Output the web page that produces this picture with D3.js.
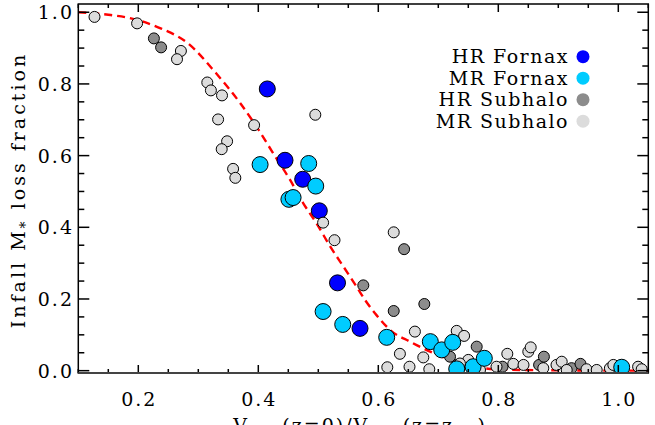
<!DOCTYPE html>
<html><head><meta charset="utf-8">
<script src="https://cdn.jsdelivr.net/npm/d3@7"></script>
<style>body{margin:0;background:#fff}svg{display:block}text{font-family:"DejaVu Serif",serif;}</style>
</head><body><div id="chart"></div>
<script>
// ---- data ----
const hrFornaxX = [0.415,0.4445,0.474,0.5017,0.532,0.5695];
const hrFornaxY = [0.786,0.587,0.534,0.446,0.245,0.118];
const mrFornaxX = [0.403,0.484,0.4957,0.451,0.458,0.508,0.5407,0.614,0.6867,0.7057,0.724,0.7307,0.758,0.7767,1.0057];
const mrFornaxY = [0.575,0.578,0.515,0.478,0.483,0.165,0.129,0.093,0.081,0.058,0.079,0.005,0.011,0.0345,0.0095];
const hrSubX = [0.226,0.238,0.575,0.643,0.6257,0.6767,0.7195,0.731,0.764,0.807,0.868,0.876,0.922,0.937];
const hrSubY = [0.927,0.902,0.238,0.339,0.1665,0.186,0.039,0.016,0.067,0.011,0.016,0.039,0.007,0.019];
const mrSubX = [0.127,0.198,0.271,0.2645,0.315,0.321,0.3395,0.333,0.393,0.495,0.348,0.339,0.358,0.3617,0.508,0.527,0.6257,0.661,0.7307,0.743,0.636,0.675,0.615,0.652,0.685,0.750,0.736,0.7695,0.797,0.815,0.825,0.842,0.850,0.854,0.875,0.897,0.9057,0.914,0.947,0.964,0.986,0.9917,1.033,1.039];
const mrSubY = [0.987,0.969,0.892,0.869,0.804,0.782,0.768,0.701,0.685,0.714,0.640,0.618,0.563,0.538,0.413,0.364,0.386,0.109,0.111,0.097,0.047,0.037,0.0095,0.011,0.004,0.030,0.020,0.002,0.011,0.047,0.019,0.016,0.053,0.065,0.007,0.016,0.025,0.002,0.004,0.002,0.007,0.016,0.011,0.004];
const curveX = [0.10,0.15,0.20,0.233,0.283,0.329,0.37,0.397,0.425,0.453,0.475,0.497,0.52,0.542,0.564,0.578,0.597,0.62,0.653,0.692,0.736,0.764,0.808,0.9,1.0,1.05];
const curveY = [1.0,0.993,0.978,0.958,0.913,0.831,0.746,0.681,0.606,0.532,0.467,0.411,0.346,0.290,0.234,0.197,0.155,0.113,0.081,0.049,0.021,0.010,0.003,0.001,0.0,0.0];
const xTicks = [0.2,0.4,0.6,0.8,1.0];
const yTicks = [0.0,0.2,0.4,0.6,0.8,1.0];
const legendLabels = ["HR Fornax","MR Fornax","HR Subhalo","MR Subhalo"];
const legendColors = ["#0000ff","#00ccff","#8c8c8c","#dcdcdc"];

// ---- layout ----
const W=655,H=425;
const L=78.3,R=648.3,T=4,B=373;
const x=d3.scaleLinear().domain([0.1,1.05]).range([L,R]);
const y=d3.scaleLinear().domain([-0.0065,1.023]).range([B,T]);
const svg=d3.select("#chart").append("svg").attr("width",W).attr("height",H);

svg.append("clipPath").attr("id","clip").append("rect")
  .attr("x",L).attr("y",T).attr("width",R-L).attr("height",B-T);
const plot=svg.append("g").attr("clip-path","url(#clip)");

// curve
const line=d3.line().x((d,i)=>x(curveX[i])).y((d,i)=>y(curveY[i])).curve(d3.curveMonotoneX);
plot.append("path").datum(curveX).attr("d",line).attr("fill","none")
  .attr("stroke","#ff0000").attr("stroke-width",2.4).attr("stroke-dasharray","8,5");

function pts(xs,ys,color,r){
  plot.append("g").selectAll("circle").data(xs).join("circle")
    .attr("cx",(d,i)=>x(xs[i])).attr("cy",(d,i)=>y(ys[i])).attr("r",r)
    .attr("fill",color).attr("stroke","#000").attr("stroke-width",1);
}
pts(hrSubX,hrSubY,legendColors[2],5.5);
pts(hrFornaxX,hrFornaxY,legendColors[0],8);
pts(mrSubX,mrSubY,legendColors[3],5.5);
pts(mrFornaxX,mrFornaxY,legendColors[1],8);

// frame & ticks
const minorX=d3.range(0.1,1.0501,0.05), minorY=d3.range(0,1.0001,0.05);
const ax=svg.append("g").attr("stroke","#000").attr("stroke-width",1.5);
ax.append("rect").attr("x",L).attr("y",T).attr("width",R-L).attr("height",B-T).attr("fill","none");
minorX.forEach(v=>{
  const major=xTicks.some(t=>Math.abs(t-v)<1e-6);
  const len=major?8:4;
  ax.append("line").attr("x1",x(v)).attr("x2",x(v)).attr("y1",B).attr("y2",B-len);
  ax.append("line").attr("x1",x(v)).attr("x2",x(v)).attr("y1",T).attr("y2",T+len);
});
minorY.forEach(v=>{
  const major=yTicks.some(t=>Math.abs(t-v)<1e-6);
  const len=major?11:6;
  ax.append("line").attr("y1",y(v)).attr("y2",y(v)).attr("x1",L).attr("x2",L+len);
  ax.append("line").attr("y1",y(v)).attr("y2",y(v)).attr("x1",R).attr("x2",R-len);
});
svg.append("line").attr("x1",L).attr("x2",R).attr("y1",B).attr("y2",B).attr("stroke","#444").attr("stroke-width",2);

// tick labels
const fs=19;
svg.append("g").selectAll("text").data(xTicks).join("text")
  .attr("x",d=>x(d)+1).attr("y",406).attr("text-anchor","middle")
  .attr("font-size",fs).attr("letter-spacing",2).text(d=>d3.format(".1f")(d));
svg.append("g").selectAll("text").data(yTicks).join("text")
  .attr("x",74).attr("y",d=>y(d)+7).attr("text-anchor","end")
  .attr("font-size",fs).attr("letter-spacing",2).text(d=>d3.format(".1f")(d));

// axis titles
const yl=svg.append("text").attr("transform","translate(25,190) rotate(-90)")
  .attr("text-anchor","middle").attr("font-size",fs).attr("letter-spacing",3);
yl.append("tspan").text("Infall M");
yl.append("tspan").attr("dy",5).attr("font-size",14).text("*");
yl.append("tspan").attr("dy",-5).text(" loss fraction");

const xl=svg.append("text").attr("x",360).attr("y",432).attr("text-anchor","middle")
  .attr("font-size",fs).attr("letter-spacing",2);
xl.append("tspan").text("V");
xl.append("tspan").attr("dy",5).attr("font-size",13).text("max");
xl.append("tspan").attr("dy",-5).text("(z=0)/V");
xl.append("tspan").attr("dy",5).attr("font-size",13).text("max");
xl.append("tspan").attr("dy",-5).text("(z=z");
xl.append("tspan").attr("dy",5).attr("font-size",13).text("inf");
xl.append("tspan").attr("dy",-5).text(")");

// legend
const lg=svg.append("g");
legendLabels.forEach((lab,i)=>{
  const cy=56.7+i*21.5;
  lg.append("text").attr("x",569).attr("y",cy+6.5).attr("text-anchor","end")
    .attr("font-size",fs).attr("letter-spacing",1.5).text(lab);
  lg.append("circle").attr("cx",583).attr("cy",cy).attr("r",6.5).attr("fill",legendColors[i]);
});
</script></body></html>
